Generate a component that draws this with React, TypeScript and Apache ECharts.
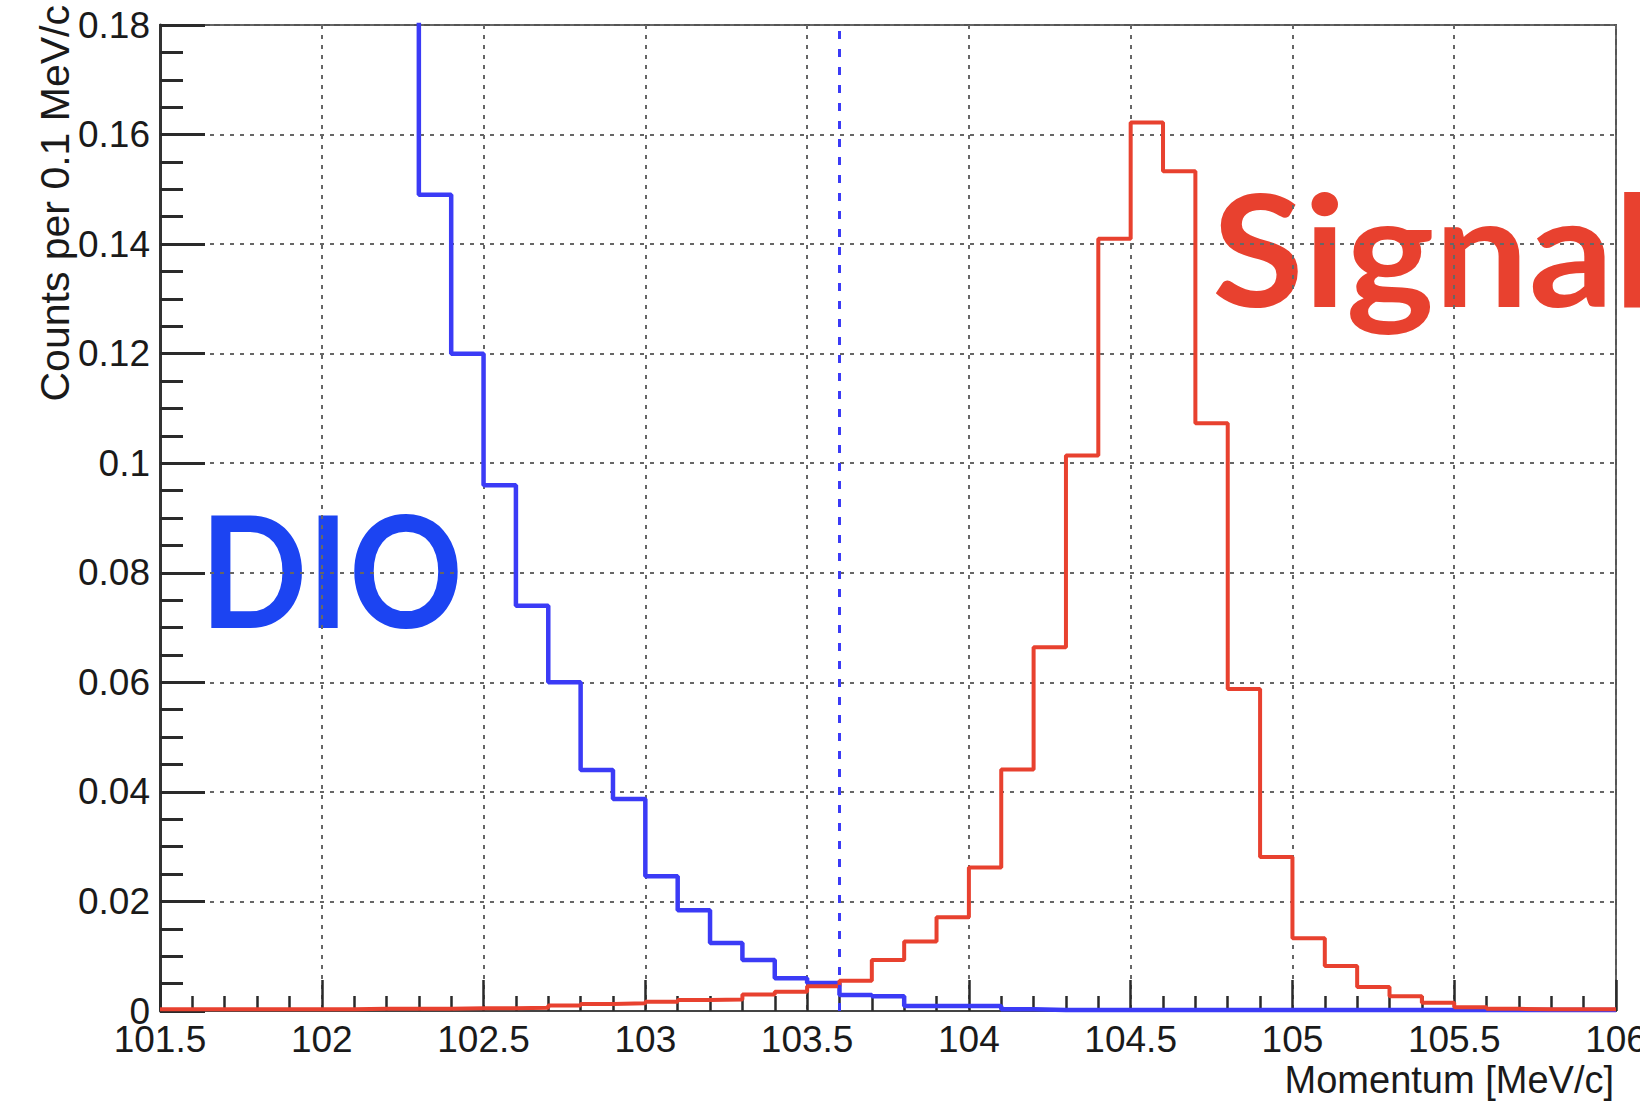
import React, { useEffect, useRef } from "react";
import * as echarts from "echarts";

// Left edges of the 0.1 MeV/c momentum bins
const binLeftEdges: number[] = [
  101.5, 101.6, 101.7, 101.8, 101.9, 102.0, 102.1, 102.2, 102.3, 102.4,
  102.5, 102.6, 102.7, 102.8, 102.9, 103.0, 103.1, 103.2, 103.3, 103.4,
  103.5, 103.6, 103.7, 103.8, 103.9, 104.0, 104.1, 104.2, 104.3, 104.4,
  104.5, 104.6, 104.7, 104.8, 104.9, 105.0, 105.1, 105.2, 105.3, 105.4,
  105.5, 105.6, 105.7, 105.8, 105.9,
];
const lastBinRightEdge = 106.0;

// DIO background (blue); bins below 102.3 are off scale (estimated)
const dioCounts: number[] = [
  0.73, 0.6, 0.5, 0.41, 0.34, 0.28, 0.23, 0.19, 0.149, 0.12,
  0.096, 0.074, 0.06, 0.044, 0.0387, 0.0246, 0.0184, 0.0124, 0.0093, 0.006,
  0.0051, 0.0029, 0.0027, 0.0009, 0.0009, 0.0009, 0.0003, 0.0002, 0.0002, 0.0002,
  0.0002, 0.0002, 0.0002, 0.0002, 0.0002, 0.0002, 0.0002, 0.0002, 0.0002, 0.0002,
  0.0002, 0.0002, 0.0002, 0.0002, 0.0002,
];

// Conversion electron signal (red)
const signalCounts: number[] = [
  0.0003, 0.0003, 0.0003, 0.0003, 0.0003, 0.0003, 0.0004, 0.0004, 0.0004, 0.0005,
  0.0005, 0.0006, 0.001, 0.0013, 0.0014, 0.0017, 0.002, 0.0021, 0.003, 0.0035,
  0.0045, 0.0055, 0.0093, 0.0127, 0.0171, 0.0262, 0.0441, 0.0664, 0.1014, 0.141,
  0.1622, 0.1533, 0.1073, 0.0588, 0.0281, 0.0133, 0.0082, 0.0044, 0.0027, 0.0015,
  0.0007, 0.0004, 0.0003, 0.0003, 0.0003,
];

const momentumCut = 103.6;

const xMin = 101.5;
const xMax = 106;
const xStep = 0.5;
const yMin = 0;
const yMax = 0.18;
const yStep = 0.02;

const xTitle = "Momentum [MeV/c]";
const yTitle = "Counts per 0.1 MeV/c";
const dioLabel = "DIO";
const signalLabel = "Signal";

const BLUE_LINE = "#3b3bf6";
const RED_LINE = "#e8412f";
const BLUE_TEXT = "#1c44f2";
const RED_TEXT = "#e8412f";
const AXIS_FONT = "'Liberation Sans', Arial, Helvetica, sans-serif";
const TAG_FONT = "Lato, 'Open Sans', sans-serif";

function toSteps(values: number[]): number[][] {
  const pts = binLeftEdges.map((x, i) => [x, values[i]]);
  pts.push([lastBinRightEdge, values[values.length - 1]]);
  return pts;
}

export default function App() {
  const ref = useRef<HTMLDivElement>(null);

  useEffect(() => {
    if (!ref.current) return;
    const chart = echarts.init(ref.current, undefined, { renderer: "svg" });

    const gridLine = { color: "#666", width: 2, type: [4, 6] as number[] };

    chart.setOption({
      animation: false,
      backgroundColor: "#ffffff",
      grid: {
        left: 160,
        top: 25,
        width: 1456,
        height: 986,
        show: true,
        borderColor: "#555",
        borderWidth: 2,
        backgroundColor: "transparent",
        containLabel: false,
        outerBoundsMode: "none",
      },
      xAxis: {
        type: "value",
        min: xMin,
        max: xMax,
        interval: xStep,
        axisLine: { show: true, onZero: false, lineStyle: { color: "#444", width: 2 } },
        axisTick: { show: true, inside: true, length: 31, lineStyle: { color: "#2a2a2a", width: 2.5 } },
        minorTick: { show: true, splitNumber: 5, length: 15, lineStyle: { color: "#2a2a2a", width: 2.5 } },
        axisLabel: { fontFamily: AXIS_FONT, fontSize: 37, color: "#1a1a1a", margin: 10 },
        splitLine: { show: true, lineStyle: gridLine },
      },
      yAxis: {
        type: "value",
        min: yMin,
        max: yMax,
        interval: yStep,
        axisLine: { show: true, lineStyle: { color: "#333", width: 3 } },
        axisTick: { show: true, inside: true, length: 45, lineStyle: { color: "#2a2a2a", width: 3 } },
        minorTick: { show: true, splitNumber: 4, length: 23, lineStyle: { color: "#2a2a2a", width: 3 } },
        axisLabel: { fontFamily: AXIS_FONT, fontSize: 37, color: "#1a1a1a", margin: 10 },
        splitLine: { show: true, lineStyle: gridLine },
      },
      series: [
        {
          name: "DIO",
          type: "line",
          step: "end",
          data: toSteps(dioCounts),
          symbol: "none",
          clip: true,
          lineStyle: { color: BLUE_LINE, width: 4.5 },
          z: 3,
          markLine: {
            silent: true,
            symbol: "none",
            label: { show: false },
            lineStyle: { color: BLUE_LINE, width: 3, type: [8, 10] },
            data: [{ xAxis: momentumCut }],
          },
        },
        {
          name: "Signal",
          type: "line",
          step: "end",
          data: toSteps(signalCounts),
          symbol: "none",
          clip: true,
          lineStyle: { color: RED_LINE, width: 4 },
          z: 4,
        },
      ],
      graphic: [
        {
          type: "text",
          x: 55,
          y: 5,
          rotation: Math.PI / 2,
          style: {
            text: yTitle,
            fontFamily: AXIS_FONT,
            fontSize: 41,
            fill: "#1a1a1a",
            align: "right",
            verticalAlign: "middle",
          },
        },
        {
          type: "text",
          x: 1614,
          y: 1080,
          style: {
            text: xTitle,
            fontFamily: AXIS_FONT,
            fontSize: 38,
            fill: "#1a1a1a",
            align: "right",
            verticalAlign: "middle",
          },
        },
        {
          type: "text",
          x: 200,
          y: 568,
          scaleX: 0.91,
          style: {
            text: dioLabel,
            fontFamily: TAG_FONT,
            fontWeight: "bold",
            fontSize: 155,
            fill: BLUE_TEXT,
            align: "left",
            verticalAlign: "middle",
          },
        },
        {
          type: "text",
          x: 1212,
          y: 247,
          scaleX: 1.08,
          style: {
            text: signalLabel,
            fontFamily: TAG_FONT,
            fontWeight: "bold",
            fontSize: 155,
            fill: RED_TEXT,
            align: "left",
            verticalAlign: "middle",
          },
        },
      ],
    });

    return () => chart.dispose();
  }, []);

  return (
    <div
      ref={ref}
      style={{ position: "fixed", left: 0, top: 0, width: 1640, height: 1105, background: "#fff" }}
    />
  );
}
